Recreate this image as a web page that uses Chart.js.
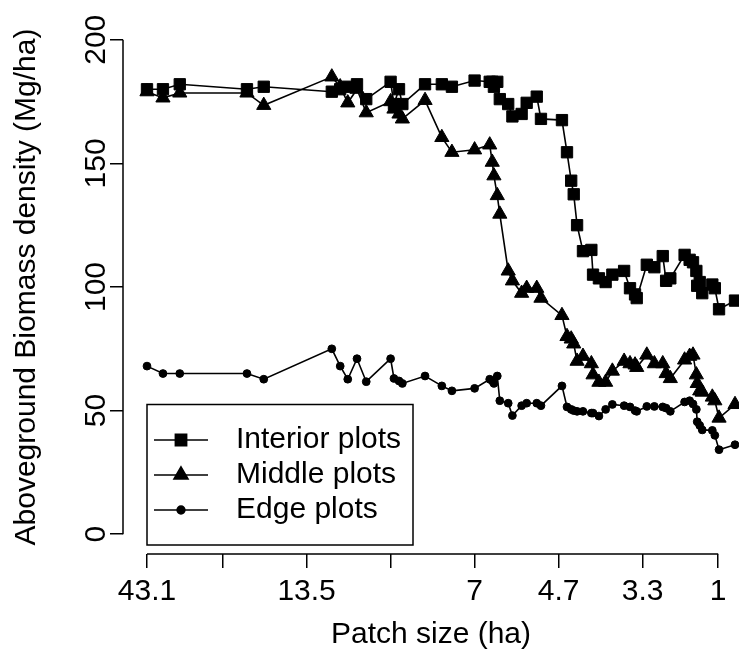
<!DOCTYPE html>
<html><head><meta charset="utf-8">
<script src="https://cdn.jsdelivr.net/npm/chart.js@4.4.0/dist/chart.umd.min.js"></script>
<style>html,body{margin:0;padding:0;background:#fff;}#wrap{width:739px;height:664px;}</style>
</head><body><div id="wrap"><canvas id="c" width="739" height="664"></canvas></div>
<script>
// patch positions along the x axis (ordered from largest to smallest patch)
const patchPos = [1.0, 2.9, 4.9, 12.9, 14.9, 23.0, 24.0, 24.9, 26.0, 27.1, 30.0, 30.4, 31.0, 31.4, 34.1, 36.1, 37.3, 40.0, 41.8, 42.1, 42.3, 42.7, 43.0, 44.0, 44.5, 45.6, 46.2, 47.4, 47.9, 50.4, 51.0, 51.5, 51.8, 52.2, 52.9, 53.9, 54.1, 54.8, 55.6, 56.4, 57.8, 58.5, 59.1, 59.3, 60.5, 61.4, 62.4, 62.8, 63.3, 65.0, 65.6, 66.0, 66.4, 66.5, 66.8, 67.1, 68.3, 68.6, 69.1, 71.0];
const interior = [180, 180, 182, 180, 181, 179, 180, 181, 182, 176, 183, 174, 180, 174, 182, 182, 181, 183.5, 183, 183, 181, 183, 176, 174, 169, 170, 174.5, 177, 168, 167.5, 154.5, 143, 137.5, 125, 114.5, 115, 105, 103.5, 102, 105, 106.5, 99.5, 97, 95.5, 109, 108, 112.5, 102.5, 103.5, 113, 111, 110, 106.5, 100.5, 102, 97.5, 101, 99.5, 91, 94.5];
const middle = [179, 176.5, 178.5, 178.5, 173.5, 185, 181, 174.5, 180, 170.5, 175, 172, 170, 168, 175.5, 160.5, 154.5, 155.5, 157.5, 150.5, 145, 137, 129.5, 106.5, 102.5, 97.5, 99.5, 99.5, 95.5, 88.5, 80, 79, 77, 70, 72, 69, 64.5, 61.5, 61.5, 66, 70, 69, 68.5, 67.5, 72.5, 69, 69, 65, 63, 70.5, 72, 72.5, 64.5, 61, 58, 57.5, 55.5, 54, 47, 52.5];
const edge = [68, 65, 65, 65, 62.7, 75, 68, 62.7, 71, 61.7, 71, 63, 62, 61, 64, 60, 58, 59, 62.7, 62, 61, 64, 54, 53, 48, 52, 53, 53, 52, 60, 51.5, 50.5, 50, 49.7, 49.7, 49, 49, 47.8, 50.5, 52.5, 52, 51.5, 50, 49.7, 51.7, 51.7, 51.5, 51, 49.7, 53.5, 54, 52.7, 50.5, 45.5, 44, 42.2, 42, 40, 34.2, 36.2];
const seriesNames = ['Interior plots', 'Middle plots', 'Edge plots'];
const xTickPos = [1, 10, 20, 30, 40, 50, 60, 69];
const xTickLabels = ['43.1', '', '13.5', '', '7', '4.7', '3.3', '1'];
const yTickVals = [0, 50, 100, 150, 200];

const FONT = '"Liberation Sans", Arial, Helvetica, sans-serif';
const FS = 30;
Chart.defaults.font.family = FONT;
Chart.defaults.color = '#000';

const toPts = arr => arr.map((v, i) => ({x: patchPos[i], y: v}));
const styles = [
  {pointStyle: 'rect', radius: 8},
  {pointStyle: 'triangle', radius: 8.2},
  {pointStyle: 'circle', radius: 3.9}
];
const allData = [interior, middle, edge];

const axisLines = {
  id: 'axisLines',
  afterDraw(chart) {
    const {ctx, chartArea, scales: {x, y}} = chart;
    ctx.save();
    ctx.strokeStyle = '#000';
    ctx.lineWidth = 1.5;
    ctx.beginPath();
    ctx.moveTo(chartArea.left, y.getPixelForValue(yTickVals[0]));
    ctx.lineTo(chartArea.left, y.getPixelForValue(yTickVals[yTickVals.length - 1]));
    ctx.moveTo(x.getPixelForValue(xTickPos[0]), chartArea.bottom);
    ctx.lineTo(x.getPixelForValue(xTickPos[xTickPos.length - 1]), chartArea.bottom);
    ctx.stroke();
    ctx.restore();
  }
};

const boxLegend = {
  id: 'boxLegend',
  afterDraw(chart) {
    const {ctx} = chart;
    ctx.save();
    ctx.strokeStyle = '#000';
    ctx.fillStyle = '#000';
    ctx.lineWidth = 1.5;
    ctx.strokeRect(147, 404.5, 266, 140.5);
    const rows = [440, 475, 510];
    ctx.font = FS + 'px ' + FONT;
    ctx.textBaseline = 'middle';
    ctx.textAlign = 'left';
    rows.forEach((ry, i) => {
      ctx.beginPath();
      ctx.moveTo(154, ry);
      ctx.lineTo(208, ry);
      ctx.stroke();
      Chart.helpers.drawPoint(ctx, {pointStyle: styles[i].pointStyle, radius: styles[i].radius, rotation: 0, borderWidth: 1}, 181, ry);
      ctx.fillText(seriesNames[i], 236, ry);
    });
    ctx.restore();
  }
};

new Chart(document.getElementById('c'), {
  type: 'line',
  data: {
    datasets: allData.map((arr, i) => ({
      label: seriesNames[i],
      data: toPts(arr),
      borderColor: '#000',
      backgroundColor: '#000',
      borderWidth: 1.6,
      pointStyle: styles[i].pointStyle,
      pointRadius: styles[i].radius,
      pointBorderWidth: 1,
      pointBackgroundColor: '#000',
      pointBorderColor: '#000',
      tension: 0,
      fill: false
    }))
  },
  options: {
    responsive: false,
    animation: false,
    devicePixelRatio: 1,
    layout: {autoPadding: false, padding: {top: 20, right: 0, bottom: 0, left: 0}},
    plugins: {legend: {display: false}, tooltip: {enabled: false}},
    scales: {
      x: {
        type: 'linear',
        min: 1 - 24 / 8.4,
        max: 1 + 592 / 8.4,
        afterBuildTicks: s => { s.ticks = xTickPos.map(v => ({value: v})); },
        afterFit: s => { s.height = 110; s.paddingLeft = 0; s.paddingRight = 0; },
        grid: {drawOnChartArea: false, drawTicks: true, tickLength: 14, color: '#000', lineWidth: 1.5},
        border: {display: false},
        ticks: {
          autoSkip: false, maxRotation: 0, minRotation: 0, padding: 6,
          font: {size: FS, family: FONT}, color: '#000',
          callback: (v) => { const k = xTickPos.indexOf(v); return k >= 0 ? xTickLabels[k] : ''; }
        },
        title: {display: true, text: 'Patch size (ha)', font: {size: FS, family: FONT}, color: '#000', padding: {top: 0, bottom: 11}}
      },
      y: {
        type: 'linear',
        min: -8,
        max: 208,
        afterBuildTicks: s => { s.ticks = yTickVals.map(v => ({value: v})); },
        afterFit: s => { s.width = 123; s.paddingTop = 0; s.paddingBottom = 0; },
        grid: {drawOnChartArea: false, drawTicks: true, tickLength: 13, color: '#000', lineWidth: 1.5},
        border: {display: false},
        ticks: {
          autoSkip: false, minRotation: 90, maxRotation: 90, crossAlign: 'center', padding: -11.5,
          font: {size: FS, family: FONT}, color: '#000',
          callback: v => String(v)
        },
        title: {display: true, text: 'Aboveground Biomass density (Mg/ha)', font: {size: FS, family: FONT}, color: '#000', padding: {top: 9, bottom: 0}}
      }
    }
  },
  plugins: [axisLines, boxLegend]
});
</script>
</body></html>
